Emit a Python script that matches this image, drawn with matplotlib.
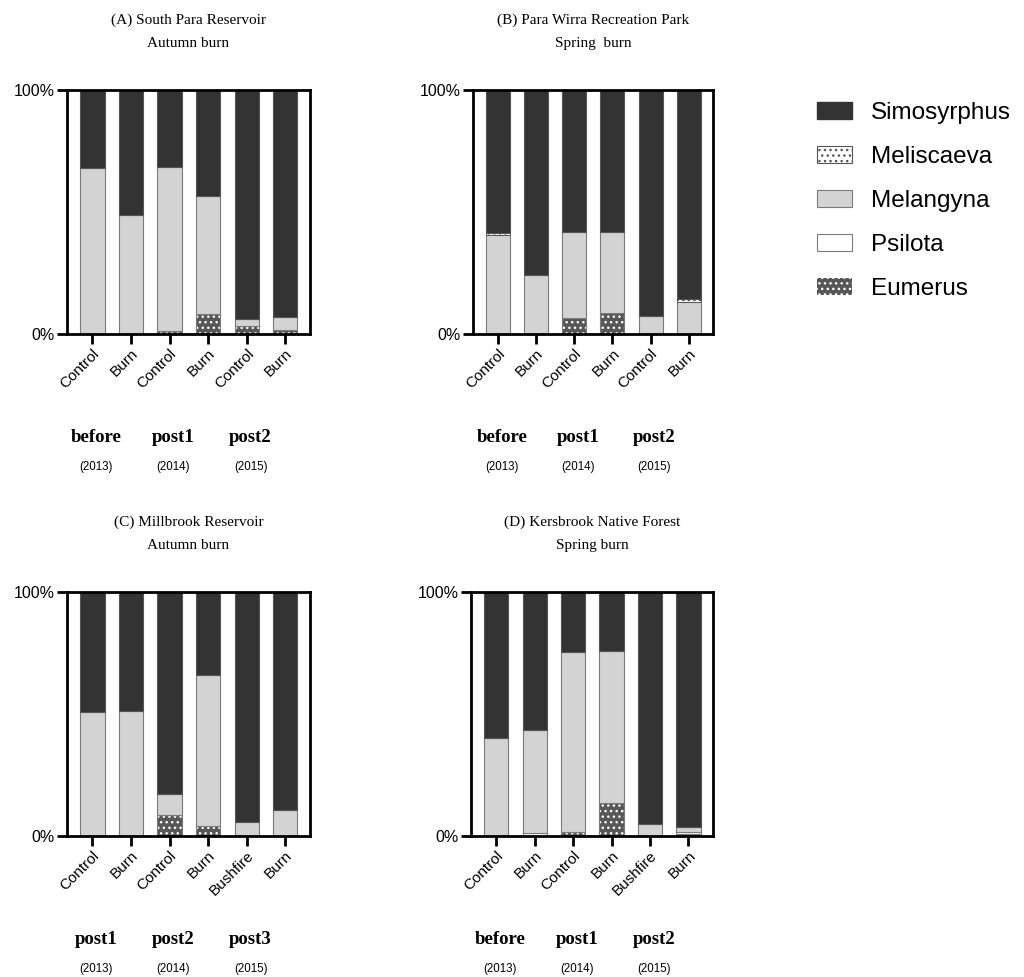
import matplotlib
matplotlib.use("Agg")
import matplotlib.pyplot as plt
import numpy as np
from matplotlib.patches import Patch

plt.rcParams['font.family'] = ['Liberation Sans', 'DejaVu Sans']
plt.rcParams['hatch.linewidth'] = 1.0

# Relative abundance (%) of each genus per treatment; Simosyrphus fills the rest to 100%
titles = ["(A) South Para Reservoir\nAutumn burn",
          "(B) Para Wirra Recreation Park\nSpring  burn",
          "(C) Millbrook Reservoir\nAutumn burn",
          "(D) Kersbrook Native Forest\nSpring burn"]

bar_labels_ab = ["Control", "Burn", "Control", "Burn", "Control", "Burn"]
bar_labels_cd = ["Control", "Burn", "Control", "Burn", "Bushfire", "Burn"]

periods_a = ["before", "post1", "post2"]
periods_c = ["post1", "post2", "post3"]
years = ["(2013)", "(2014)", "(2015)"]

eumerus_a = [0, 0, 1.2, 8.4, 3.3, 1.5]
psilota_a = [0, 0, 0, 0, 0, 0]
melangyna_a = [68, 48.6, 67.3, 48, 2.7, 5.5]
meliscaeva_a = [0, 0, 0, 0, 0, 0]

eumerus_b = [0, 0, 6.7, 8.5, 0, 0]
psilota_b = [0, 0, 0, 0, 0, 0]
melangyna_b = [40.5, 24.2, 35, 33.5, 7.4, 13.2]
meliscaeva_b = [1, 0, 0, 0, 0, 1]

eumerus_c = [0, 0, 8.6, 4.2, 0, 0]
psilota_c = [0, 0, 0, 0, 0, 0]
melangyna_c = [51, 51.3, 8.8, 61.9, 5.9, 10.7]
meliscaeva_c = [0, 0, 0, 0, 0, 0]

eumerus_d = [0, 0, 1.8, 13.7, 0, 1.0]
psilota_d = [0, 1.3, 0, 0, 0, 0.5]
melangyna_d = [40.3, 42, 73.6, 62, 5, 2.2]
meliscaeva_d = [0, 0, 0, 0, 0, 0]

panels = [
    (titles[0], bar_labels_ab, periods_a, eumerus_a, psilota_a, melangyna_a, meliscaeva_a),
    (titles[1], bar_labels_ab, periods_a, eumerus_b, psilota_b, melangyna_b, meliscaeva_b),
    (titles[2], bar_labels_cd, periods_c, eumerus_c, psilota_c, melangyna_c, meliscaeva_c),
    (titles[3], bar_labels_cd, periods_a, eumerus_d, psilota_d, melangyna_d, meliscaeva_d),
]

# axes rectangles in pixels: left, top, right, bottom
W, H = 1024, 977
rects = [(67, 90, 310, 334), (473, 90, 713, 334),
         (67, 592, 310, 836), (471, 592, 713, 836)]

DARK = "#333333"
LIGHT = "#d3d3d3"
EUM = "#575757"
EDGE = "#7a7a7a"

fig = plt.figure(figsize=(W / 100, H / 100), dpi=100)

for (title, labels, periods, eum, psi, mel, mli), (l, t, r, b) in zip(panels, rects):
    ax = fig.add_axes([l / W, 1 - b / H, (r - l) / W, (b - t) / H])
    x = np.arange(len(labels))
    eum = np.array(eum, float)
    psi = np.array(psi, float)
    mel = np.array(mel, float)
    mli = np.array(mli, float)
    simo = 100 - eum - psi - mel - mli
    w = 0.63

    bottom = np.zeros(len(x))
    ax.bar(x, eum, w, bottom=bottom, color=EUM, edgecolor="white", hatch="...", linewidth=0)
    ax.bar(x, eum, w, bottom=bottom, fill=False, edgecolor=EDGE, linewidth=0.8)
    bottom += eum
    ax.bar(x, psi, w, bottom=bottom, color="white", edgecolor=EDGE, linewidth=0.8)
    bottom += psi
    ax.bar(x, mel, w, bottom=bottom, color=LIGHT, edgecolor=EDGE, linewidth=0.8)
    bottom += mel
    ax.bar(x, mli, w, bottom=bottom, color="white", edgecolor="#444444", hatch="...", linewidth=0.6)
    bottom += mli
    ax.bar(x, simo, w, bottom=bottom, color=DARK, edgecolor="#555555", linewidth=0.8)

    ax.set_xlim(-0.66, 5.64)
    ax.set_ylim(0, 100)
    ax.set_yticks([0, 100])
    ax.set_yticklabels(["0%", "100%"], fontsize=11.5)
    ax.set_xticks(x)
    ax.set_xticklabels(labels, rotation=45, ha="right", rotation_mode="anchor", fontsize=11)
    ax.tick_params(axis="both", width=2, length=7, direction="out", pad=2)
    for s in ax.spines.values():
        s.set_linewidth(2)
    ax.set_title(title, family="Liberation Serif", fontsize=11, pad=31, linespacing=1.95)

    # sampling period under each pair of bars
    for i, (p, yr) in enumerate(zip(periods, years)):
        xp = 2 * i + 0.1
        ax.text(xp, -0.425, p, transform=ax.get_xaxis_transform(), ha="center", va="center",
                family="Liberation Serif", fontweight="bold", fontsize=13.5)
        ax.text(xp, -0.545, yr, transform=ax.get_xaxis_transform(), ha="center", va="center",
                fontsize=8.3)

legend_names = ["Simosyrphus", "Meliscaeva", "Melangyna", "Psilota", "Eumerus"]
handles = [Patch(facecolor=DARK, edgecolor=DARK),
           Patch(facecolor="white", edgecolor="#555555", hatch="...", linewidth=0.8),
           Patch(facecolor=LIGHT, edgecolor=EDGE, linewidth=0.8),
           Patch(facecolor="white", edgecolor=EDGE, linewidth=0.8),
           Patch(facecolor=EUM, edgecolor="white", hatch="...", linewidth=0)]
fig.legend(handles, legend_names, loc="upper left", bbox_to_anchor=(817 / W, 1 - 102 / H),
           frameon=False, fontsize=17.5, borderpad=0, borderaxespad=0,
           handlelength=1.42, handleheight=0.7, handletextpad=0.8, labelspacing=0.9)

fig.savefig("out.png", dpi=100)
